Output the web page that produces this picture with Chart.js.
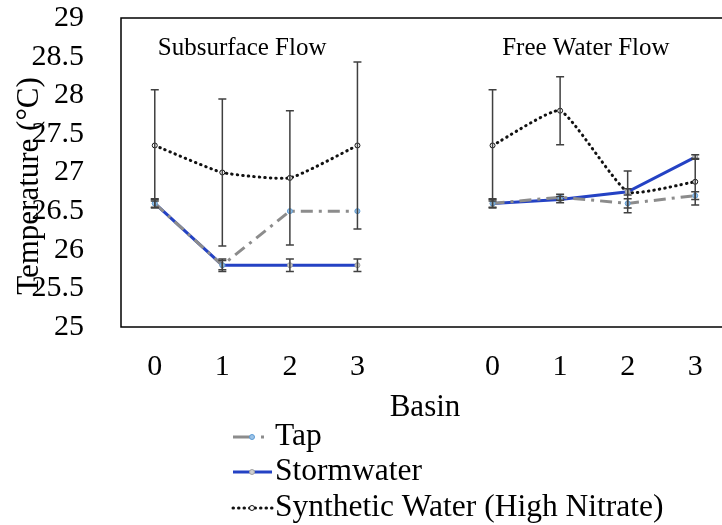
<!DOCTYPE html>
<html>
<head>
<meta charset="utf-8">
<script src="https://cdn.jsdelivr.net/npm/chart.js@4"></script>
<style>
  html, body { margin: 0; padding: 0; background: #fff; overflow: hidden; }
  #wrap { width: 740px; height: 525px; }
</style>
</head>
<body>
<div id="wrap"><canvas id="tempChart" width="740" height="525"></canvas></div>
<script>
// basin index, blank slot separates the two wetland types
const categories = ['0', '1', '2', '3', '', '0', '1', '2', '3'];
const panelTitles = ['Subsurface Flow', 'Free Water Flow'];
const yTicks = [25, 25.5, 26, 26.5, 27, 27.5, 28, 28.5, 29];

const tapValues = [26.6, 25.8, 26.5, 26.5, null, 26.6, 26.68, 26.6, 26.7];
const tapErrors = [0.05, 0.06, 0, 0, null, 0.05, 0.04, 0.06, 0.05];
const stormValues = [26.6, 25.8, 25.8, 25.8, null, 26.6, 26.65, 26.75, 27.2];
const stormErrors = [0.06, 0.08, 0.08, 0.08, null, 0.06, 0.04, 0.04, 0.03];
const synthValues = [27.35, 27.0, 26.93, 27.35, null, 27.35, 27.8, 26.75, 26.88];
const synthErrors = [0.72, 0.95, 0.87, 1.08, null, 0.72, 0.44, 0.27, 0.3];

const serif = 'Liberation Serif';

const errorBars = {
    id: 'errorBars',
    afterDatasetsDraw(chart) {
        const ctx = chart.ctx;
        const x = chart.scales.x, y = chart.scales.y;
        ctx.save();
        ctx.strokeStyle = '#404040';
        ctx.lineWidth = 1.5;
        chart.data.datasets.forEach(ds => {
            ds.values.forEach((v, i) => {
                const e = ds.errors[i];
                if (v === null || !e) return;
                const px = x.getPixelForValue(i);
                const top = y.getPixelForValue(v + e);
                const bot = y.getPixelForValue(v - e);
                ctx.beginPath();
                ctx.moveTo(px, top); ctx.lineTo(px, bot);
                ctx.moveTo(px - 4, top); ctx.lineTo(px + 4, top);
                ctx.moveTo(px - 4, bot); ctx.lineTo(px + 4, bot);
                ctx.stroke();
            });
        });
        ctx.restore();
    }
};

const decorations = {
    id: 'decorations',
    afterDraw(chart) {
        const ctx = chart.ctx;
        const a = chart.chartArea;
        const x = chart.scales.x;
        ctx.save();
        // frame
        ctx.strokeStyle = '#000';
        ctx.lineWidth = 1.5;
        ctx.strokeRect(a.left, a.top, a.right - a.left, a.bottom - a.top);

        ctx.fillStyle = '#000';
        ctx.textAlign = 'center';
        ctx.textBaseline = 'middle';
        ctx.font = '25px ' + serif;
        ctx.fillText(panelTitles[0], (x.getPixelForValue(0) + x.getPixelForValue(3)) / 2 - 14, 48);
        ctx.fillText(panelTitles[1], (x.getPixelForValue(5) + x.getPixelForValue(8)) / 2 - 8, 48);

        // y title
        ctx.save();
        ctx.translate(30, 186);
        ctx.rotate(-Math.PI / 2);
        ctx.font = '31px ' + serif;
        ctx.fillText('Temperature (°C)', 0, 0);
        ctx.restore();

        // legend
        const rows = [437, 472, 508];
        chart.data.datasets.forEach((ds, i) => {
            const yy = rows[i];
            ctx.save();
            ctx.strokeStyle = ds.borderColor;
            ctx.lineWidth = ds.borderWidth;
            ctx.lineCap = ds.borderCapStyle || 'butt';
            ctx.setLineDash(ds.legendDash || ds.borderDash || []);
            ctx.beginPath();
            ctx.moveTo(233, yy); ctx.lineTo(272, yy);
            ctx.stroke();
            ctx.setLineDash([]);
            ctx.beginPath();
            ctx.arc(252, yy, 2.5, 0, Math.PI * 2);
            ctx.fillStyle = ds.pointBackgroundColor;
            ctx.fill();
            ctx.lineWidth = 1;
            ctx.strokeStyle = ds.pointBorderColor;
            ctx.stroke();
            ctx.restore();
            ctx.textAlign = 'left';
            ctx.font = '31.5px ' + serif;
            ctx.fillText(ds.label, 275, yy);
        });
        ctx.restore();
    }
};

function series(label, values, errors, style) {
    return Object.assign({
        label: label,
        data: values,
        values: values,
        errors: errors,
        spanGaps: false,
        pointRadius: 2.5,
        pointBorderWidth: 1
    }, style);
}

new Chart(document.getElementById('tempChart'), {
    type: 'line',
    data: {
        labels: categories,
        datasets: [
            series('Tap', tapValues, tapErrors, {
                borderColor: '#8c8c8c', borderWidth: 3, borderDash: [12, 6, 3, 6], legendDash: [19, 9, 3, 30],
                tension: 0,
                pointBackgroundColor: '#9dc3e6', pointBorderColor: '#5b9bd5'
            }),
            series('Stormwater', stormValues, stormErrors, {
                borderColor: '#2442c4', borderWidth: 3,
                tension: 0,
                pointBackgroundColor: '#d0d0d0', pointBorderColor: '#a0a0a0'
            }),
            series('Synthetic Water (High Nitrate)', synthValues, synthErrors, {
                borderColor: '#111', borderWidth: 3, borderDash: [0.5, 5], borderCapStyle: 'round',
                tension: 0.15,
                pointBackgroundColor: '#fff', pointBorderColor: '#111'
            })
        ]
    },
    options: {
        responsive: false,
        animation: false,
        layout: { padding: { left: 0, top: 18, right: 11, bottom: 99 } },
        plugins: { legend: { display: false }, tooltip: { enabled: false } },
        scales: {
            x: {
                offset: true,
                grid: { display: false },
                border: { display: false },
                ticks: { autoSkip: false, maxRotation: 0, padding: 14, color: '#000', font: { family: serif, size: 30 } },
                title: { display: true, text: 'Basin', color: '#000', padding: 0, font: { family: serif, size: 31 } },
                afterFit(scale) { scale.height = 99; scale.paddingLeft = 0; scale.paddingRight = 0; }
            },
            y: {
                min: 25, max: 29,
                afterBuildTicks(scale) { scale.ticks = yTicks.map(v => ({ value: v })); },
                grid: { display: false },
                border: { display: false },
                ticks: { autoSkip: false, padding: 29, color: '#000', font: { family: serif, size: 30 }, callback: v => String(v) },
                afterFit(scale) { scale.width = 121; scale.paddingTop = 0; scale.paddingBottom = 0; }
            }
        }
    },
    plugins: [errorBars, decorations]
});
</script>
</body>
</html>
